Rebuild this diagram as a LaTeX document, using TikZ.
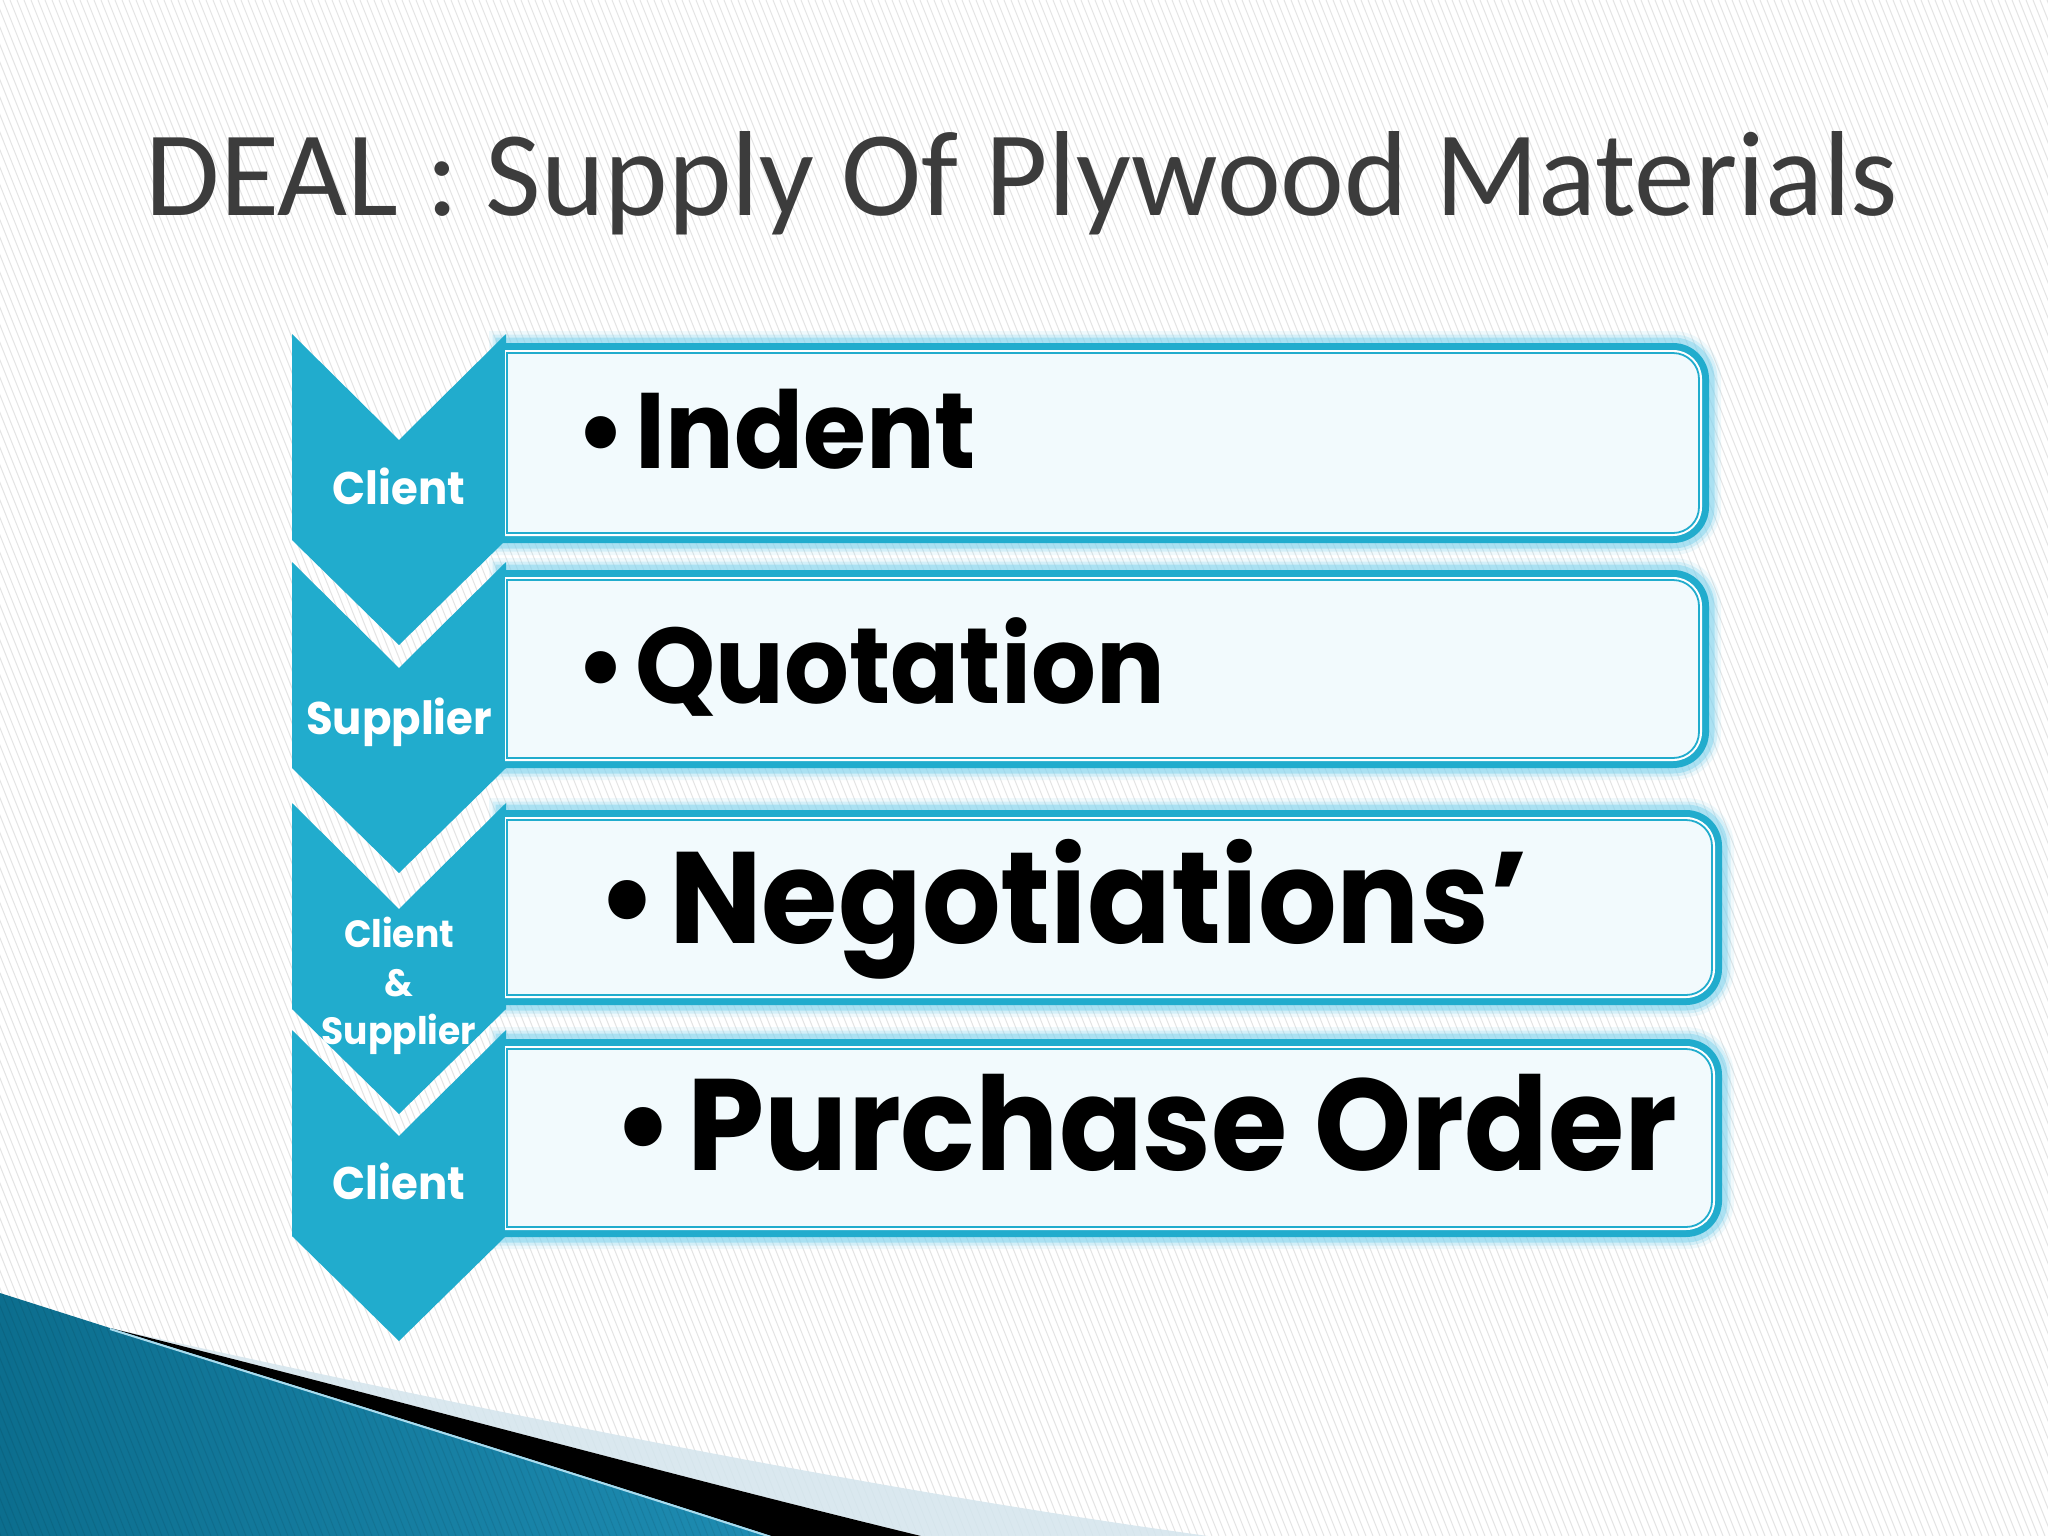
\documentclass[tikz,border=0pt]{standalone}
\usepackage{fontspec}
\newfontfamily\titlefont{Carlito}
\newfontfamily\listfont{Poppins}[FakeStretch=0.95]

\definecolor{chevblue}{RGB}{33,172,205}
\definecolor{boxfill}{RGB}{242,250,253}
\definecolor{glowblue}{RGB}{130,212,238}
\definecolor{titlegray}{RGB}{60,60,60}
\definecolor{stripegray}{RGB}{228,228,228}
\definecolor{wavedark}{RGB}{12,110,142}
\definecolor{wavelight}{RGB}{100,190,224}
\definecolor{wavemid}{RGB}{30,140,178}
\definecolor{wavepale}{RGB}{212,229,237}
\definecolor{waveedge}{RGB}{170,220,238}

% box with round corners on the right side only: x1 y1 x2 y2 radius
\newcommand{\roundright}[5]{(#1,#2) -- (#3-#5,#2) arc[start angle=270,end angle=360,radius=#5] -- (#3,#4-#5) arc[start angle=0,end angle=90,radius=#5] -- (#1,#4) -- cycle}

\begin{document}
\begin{tikzpicture}[x=0.01cm, y=-0.01cm,
    chevlabel/.style={text=white, inner sep=0pt, font=\listfont\bfseries\fontsize{13}{15}\selectfont},
    chevsmall/.style={text=white, inner sep=0pt, align=center, font=\listfont\bfseries\fontsize{10.8}{13.7}\selectfont},
    itemtext/.style={inner sep=0pt, anchor=base west, font=\listfont\bfseries\fontsize{30.5}{36}\selectfont},
    bigitem/.style={inner sep=0pt, anchor=base west, font=\listfont\bfseries\fontsize{37}{44}\selectfont}]

  \useasboundingbox (0,0) rectangle (2048,1536);
  \fill[white] (0,0) rectangle (2048,1536);
  \foreach \s in {-620,-613,...,2048}
    \draw[stripegray, line width=0.01cm] (\s,0) -- (\s+614,1536);

  % wave at the bottom left
  \fill[wavepale, opacity=0.85] (110,1328) .. controls (470,1408) and (860,1488) .. (1208,1536) -- (921,1536) .. controls (650,1470) and (380,1395) .. (110,1328) -- cycle;
  \fill[black] (110,1328) .. controls (380,1395) and (650,1470) .. (921,1536) -- (771,1536) .. controls (520,1455) and (260,1375) .. (110,1328) -- cycle;
  \shade[left color=wavedark, middle color=wavelight, right color=wavemid] (0,1293) -- (110,1328) .. controls (260,1375) and (520,1455) .. (771,1536) -- (0,1536) -- cycle;
  \begin{scope}
    \clip (0,1293) -- (110,1328) .. controls (260,1375) and (520,1455) .. (771,1536) -- (0,1536) -- cycle;
    \foreach \s in {-620,-613,...,800}
      \draw[black, opacity=0.08, line width=0.01cm] (\s,0) -- (\s+614,1536);
  \end{scope}
  \draw[waveedge, line width=0.02cm] (110,1329) .. controls (260,1376) and (520,1456) .. (771,1537);

  % glow round the boxes
  \foreach \t/\b/\r in {343/543/1709, 570/768/1709, 810/1005/1722, 1039/1237/1722}
    \foreach \w/\o in {24/0.12, 17/0.25, 11/0.5}
      \draw[glowblue, line width=\w*0.01cm, opacity=\o] \roundright{501}{\t}{\r}{\b}{36};

  % chevrons
  \foreach \t in {334,562,803,1030}
    \fill[chevblue] (292,\t) -- (399,\t+106) -- (506,\t) -- (506,\t+206) -- (399,\t+311) -- (292,\t+206) -- cycle;

  % boxes
  \foreach \t/\b/\r in {343/543/1709, 570/768/1709, 810/1005/1722, 1039/1237/1722}{
    \fill[chevblue] \roundright{501}{\t}{\r}{\b}{36};
    \fill[white] \roundright{505}{\t+7}{\r-7}{\b-7}{29};
    \filldraw[fill=boxfill, draw=chevblue, line width=0.018cm] \roundright{507}{\t+10}{\r-10}{\b-10}{26};
  }

  \node[font=\titlefont\fontsize{34.4}{40}\selectfont, text=titlegray, inner sep=0pt, anchor=base] (title) at (1022,215) {DEAL : Supply Of Plywood Materials};

  \node[chevlabel, anchor=base] (who1) at (399,504) {Client};
  \node[chevlabel, anchor=base] (who2) at (399,734) {Supplier};
  \node[chevsmall] (who3) at (399,986) {Client\\\&\\Supplier};
  \node[chevlabel, anchor=base] (who4) at (399,1199) {Client};

  \node[itemtext] (indent) at (575,468) {•\hspace{0.08em}Indent};
  \node[itemtext] (quotation) at (575,703) {•\hspace{0.08em}Quotation};
  \node[bigitem] (negotiation) at (596,943) {•\hspace{0.08em}Negotiations’};
  \node[bigitem] (order) at (612,1170) {•\hspace{0.1em}Purchase Order};

\end{tikzpicture}
\end{document}
